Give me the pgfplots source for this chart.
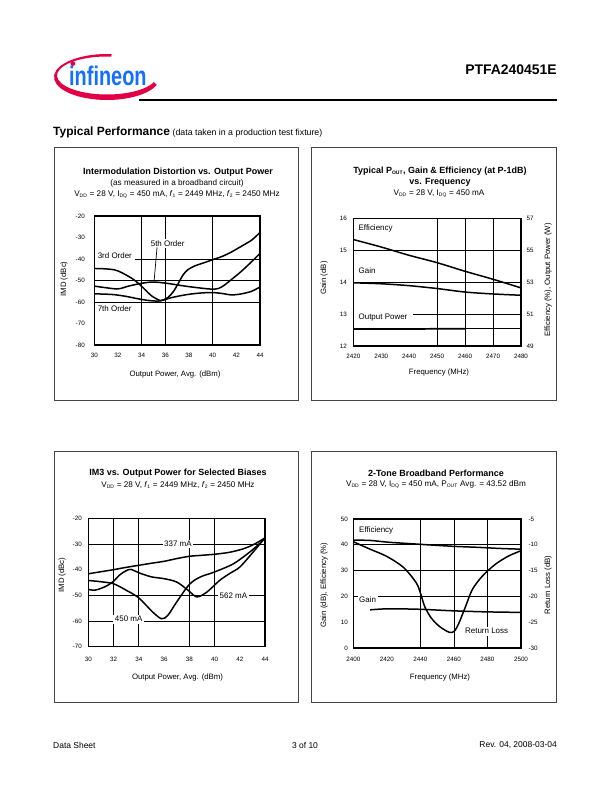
\documentclass[border=0pt]{standalone}
\usepackage{fontspec}
\setmainfont{Liberation Sans}
\usepackage{graphicx}
\usepackage{pgfplots}
\pgfplotsset{compat=1.18}
\definecolor{infblue}{RGB}{20,110,255}
\definecolor{infred}{RGB}{225,0,70}
\definecolor{boxgray}{RGB}{70,70,70}
\newcommand{\tfont}{\fontsize{9}{10.8}\selectfont\bfseries}
\newcommand{\sfont}{\fontsize{8.2}{9.6}\selectfont}
\newcommand{\lfont}{\fontsize{7.8}{9.2}\selectfont}
\newcommand{\ifont}{\fontsize{8}{9.4}\selectfont}
\newcommand{\kfont}{\fontsize{6.3}{7.2}\selectfont}
\newcommand{\sub}[1]{\textsubscript{\fontsize{5}{5.5}\selectfont #1}}
\pgfplotsset{
  base/.style={
    scale only axis,
    axis line style={line width=1.1bp},
    major tick length=0pt,
    tick label style={font=\kfont},
    /pgf/number format/assume math mode=true,
    /pgf/number format/set thousands separator={},
    cycle list={{black}},
    every axis plot/.append style={black, line width=1.5bp, no markers, smooth, tension=0.5},
  },
}
\tikzset{
  gr/.style={line width=0.7bp, black},
  lab/.style={font=\ifont, fill=white, inner xsep=1.5bp, inner ysep=1.5bp},
}
\begin{document}
\begin{tikzpicture}
\path[use as bounding box] (0,0) rectangle (612bp,-792bp);
% ---------- header ----------
\fill[infred] (107bp,-77bp) +(85:53bp and 23bp) arc[start angle=85,end angle=340,x radius=53bp,y radius=23bp]
  -- ([shift={(340:50bp and 19bp)}]107bp,-75.5bp) arc[start angle=340,end angle=85,x radius=50bp,y radius=19bp] -- cycle;
\node[anchor=base west, inner sep=0pt, text=infblue] at (69bp,-85bp) {\scalebox{0.74}[1]{\fontsize{27}{27}\selectfont\bfseries infineon}};
\fill[infred] (72.8bp,-63.5bp) circle (2.4bp);
\node[anchor=east, inner sep=0pt, font=\fontsize{14}{16}\selectfont\bfseries] at (557bp,-70bp) {PTFA240451E};
\draw[line width=1.2bp] (139bp,-100bp) -- (557bp,-100bp);
\node[anchor=base west, inner sep=0pt] at (53bp,-135bp) {{\fontsize{12}{14}\selectfont\bfseries Typical Performance} {\fontsize{8.8}{10}\selectfont (data taken in a production test fixture)}};
% ---------- footer ----------
\node[anchor=west, inner sep=0pt, font=\fontsize{8.5}{10}\selectfont] at (53bp,-745bp) {Data Sheet};
\node[anchor=center, inner sep=0pt, font=\fontsize{8.5}{10}\selectfont] at (305bp,-745bp) {3 of 10};
\node[anchor=east, inner sep=0pt, font=\fontsize{8.5}{10}\selectfont] at (557bp,-745bp) {Rev. 04, 2008-03-04};
% ---------- boxes ----------
\draw[boxgray, line width=1bp] (54.5bp,-147bp) rectangle (298bp,-400bp);
\draw[boxgray, line width=1bp] (311bp,-147bp) rectangle (556bp,-400bp);
\draw[boxgray, line width=1bp] (54.5bp,-451bp) rectangle (298bp,-702bp);
\draw[boxgray, line width=1bp] (311bp,-451bp) rectangle (556bp,-702bp);

% ================= Chart 1 =================
\node[font=\tfont, inner sep=0pt] at (178bp,-172bp) {Intermodulation Distortion vs. Output Power};
\node[font=\sfont, inner sep=0pt] at (177bp,-183.5bp) {(as measured in a broadband circuit)};
\node[font=\sfont, inner sep=0pt] at (177bp,-195bp) {V\sub{DD} = 28 V, I\sub{DQ} = 450 mA, \textit{f}\sub{1} = 2449 MHz, \textit{f}\sub{2} = 2450 MHz};
\node[font=\lfont, inner sep=0pt] at (175bp,-374bp) {Output Power, Avg. (dBm)};
\node[font=\lfont, inner sep=0pt, rotate=90] at (64bp,-279bp) {IMD (dBc)};
\begin{axis}[base, at={(94.3bp,-345bp)}, anchor=south west, width=165.7bp, height=129bp,
  xmin=30, xmax=44, ymin=-80, ymax=-20,
  xtick={30,32,...,44}, ytick={-80,-70,...,-20},
  xticklabel style={yshift=-5bp}, yticklabel style={xshift=-6bp}]
\draw[gr] (axis cs:34,-80) -- (axis cs:34,-20);
\draw[gr] (axis cs:36,-80) -- (axis cs:36,-20);
\draw[gr] (axis cs:40,-80) -- (axis cs:40,-20);
\draw[gr] (axis cs:33.4,-40) -- (axis cs:44,-40);
\draw[gr] (axis cs:30,-50) -- (axis cs:44,-50);
\draw[gr] (axis cs:30,-60) -- (axis cs:44,-60);
% 3rd order
\addplot coordinates {(30,-44.4) (31,-44.6) (31.75,-45.1) (32.3,-46.3) (33.15,-48.9) (33.7,-51.2) (34.3,-54.3) (34.85,-57.2) (35.55,-59.3) (35.8,-59.1) (36.25,-57.8) (36.7,-55) (37.1,-51.3) (37.5,-47.4) (37.9,-45) (38.5,-43.2) (39.35,-41.6) (40,-40.3) (40.8,-38.8) (41.6,-36.7) (42.45,-34) (43.3,-31.2) (44,-27.6)};
% 5th order
\addplot coordinates {(30,-52.6) (30.9,-53.3) (32,-53.9) (32.9,-52.6) (33.9,-51.4) (34.85,-50.7) (35.7,-51) (36.5,-51.6) (37.66,-52.6) (38.8,-53.4) (39.9,-54) (40.5,-53.7) (41,-52.1) (41.6,-49.5) (42.45,-45.6) (43.3,-41.2) (44,-37.4)};
% 7th order
\addplot coordinates {(30,-56.2) (31.5,-56.5) (32.6,-57.3) (33.7,-58.5) (34.6,-59.3) (35.55,-59.5) (36.5,-58) (37.66,-56.7) (38.8,-55.9) (39.9,-55.6) (40.76,-56) (41.6,-56.7) (42.45,-56.2) (43.3,-55) (44,-53)};
\node[lab, anchor=west] at (axis cs:30.15,-38.3) {3rd Order};
\node[lab] at (axis cs:36.2,-32.7) {5th Order};
\draw[line width=0.7bp] (axis cs:35.3,-34.6) -- (axis cs:35.05,-50.4);
\node[lab, anchor=west, fill=none] at (axis cs:30.15,-63) {7th Order};
\end{axis}

% ================= Chart 2 =================
\node[font=\tfont, inner sep=0pt] at (440bp,-171bp) {Typical P\sub{OUT}, Gain \& Efficiency (at P-1dB)};
\node[font=\tfont, inner sep=0pt] at (440bp,-182bp) {vs. Frequency};
\node[font=\sfont, inner sep=0pt] at (439bp,-194bp) {V\sub{DD} = 28 V, I\sub{DQ} = 450 mA};
\node[font=\lfont, inner sep=0pt] at (439bp,-372bp) {Frequency (MHz)};
\node[font=\lfont, inner sep=0pt, rotate=90] at (324bp,-278bp) {Gain (dB)};
\node[font=\lfont, inner sep=0pt, rotate=90] at (548bp,-280bp) {Efficiency (\%), Output Power (W)};
\begin{axis}[base, at={(353.3bp,-346bp)}, anchor=south west, width=167.7bp, height=127.7bp,
  xmin=2420, xmax=2480, ymin=12, ymax=16,
  xtick={2420,2430,...,2480}, ytick={12,13,...,16},
  xticklabel style={yshift=-5bp}, yticklabel style={xshift=-3bp}]
\draw[gr] (axis cs:2450,12) -- (axis cs:2450,16);
\draw[gr] (axis cs:2460,12) -- (axis cs:2460,16);
\draw[gr] (axis cs:2470,12) -- (axis cs:2470,16);
\draw[gr] (axis cs:2420,15) -- (axis cs:2480,15);
\draw[gr] (axis cs:2420,14) -- (axis cs:2480,14);
\draw[gr] (axis cs:2441.5,13) -- (axis cs:2480,13);
% Gain
\addplot coordinates {(2420,13.98) (2430,13.95) (2440,13.89) (2450,13.8) (2460,13.69) (2470,13.63) (2480,13.59)};
\node[lab, anchor=west, fill=none] at (axis cs:2421.3,15.69) {Efficiency};
\node[lab, anchor=west, fill=none] at (axis cs:2421.3,14.37) {Gain};
\node[lab, anchor=west] at (axis cs:2421.3,12.9) {Output Power};
\end{axis}
\begin{axis}[base, at={(353.3bp,-346bp)}, anchor=south west, width=167.7bp, height=127.7bp,
  xmin=2420, xmax=2480, ymin=49, ymax=57,
  axis x line=none, axis y line*=right, ytick={49,51,...,57},
  yticklabel style={xshift=2bp}]
% Efficiency
\addplot coordinates {(2420,55.67) (2430,55.2) (2440,54.68) (2450,54.22) (2460,53.68) (2470,53.18) (2480,52.64)};
% Output power
\addplot[line width=1.7bp, sharp plot] coordinates {(2420,50.06) (2440,50.06) (2450,50.08) (2460,50.08)};
\addplot[line width=0.7bp, sharp plot] coordinates {(2460,50.08) (2480,50.08)};
\end{axis}

% ================= Chart 3 =================
\node[font=\tfont, inner sep=0pt] at (178bp,-473bp) {IM3 vs. Output Power for Selected Biases};
\node[font=\sfont, inner sep=0pt] at (178bp,-485bp) {V\sub{DD} = 28 V, \textit{f}\sub{1} = 2449 MHz, \textit{f}\sub{2} = 2450 MHz};
\node[font=\lfont, inner sep=0pt] at (177.5bp,-677bp) {Output Power, Avg. (dBm)};
\node[font=\lfont, inner sep=0pt, rotate=90] at (62bp,-575bp) {IMD (dBc)};
\begin{axis}[base, at={(88.3bp,-646.7bp)}, anchor=south west, width=176.7bp, height=128.4bp,
  xmin=30, xmax=44, ymin=-70, ymax=-20,
  xtick={30,32,...,44}, ytick={-70,-60,...,-20},
  xticklabel style={yshift=-7bp}, yticklabel style={xshift=-3bp}]
\draw[gr] (axis cs:32,-70) -- (axis cs:32,-20);
\draw[gr] (axis cs:34,-70) -- (axis cs:34,-20);
\draw[gr] (axis cs:38,-70) -- (axis cs:38,-20);
\draw[gr] (axis cs:40,-70) -- (axis cs:40,-20);
\draw[gr] (axis cs:30,-30) -- (axis cs:44,-30);
\draw[gr] (axis cs:30,-50) -- (axis cs:44,-50);
\draw[gr] (axis cs:30,-60) -- (axis cs:44,-60);
% 337 mA
\addplot coordinates {(30,-41.6) (31,-40.8) (32,-40) (33,-39.1) (34,-38.3) (35,-37.5) (36,-36.75) (37,-35.7) (38,-34.8) (39,-34.4) (40,-34) (41,-33.4) (41.5,-32.9) (42.2,-32) (42.8,-30.9) (43.4,-29.4) (44,-27.6)};
% 450 mA
\addplot coordinates {(30,-44.2) (31,-44.7) (32,-45.5) (33,-48) (34,-51) (35.1,-56.5) (35.8,-59.1) (36.3,-57.8) (37,-52.6) (38,-45.8) (38.85,-42.9) (40,-40.9) (41.5,-37.7) (42.8,-33.1) (43.4,-30.6) (44,-27.7)};
% 562 mA
\addplot coordinates {(30,-47.7) (30.5,-48) (31,-47.3) (31.5,-46.2) (32,-44.5) (32.5,-42) (33,-40.4) (33.4,-39.9) (34,-41.2) (35,-42.8) (36,-43.5) (37,-44.8) (37.9,-48) (38.6,-50.6) (39.4,-48.7) (40.4,-44.2) (41.2,-41.5) (42,-39) (43,-33.5) (44,-27.6)};
\node[lab] at (axis cs:37.1,-30) {337 mA};
\node[lab] at (axis cs:41.5,-50) {562 mA};
\node[lab] at (axis cs:33.2,-59.3) {450 mA};
\end{axis}

% ================= Chart 4 =================
\node[font=\tfont, inner sep=0pt] at (436bp,-473bp) {2-Tone Broadband Performance};
\node[font=\sfont, inner sep=0pt] at (436bp,-485bp) {V\sub{DD} = 28 V, I\sub{DQ} = 450 mA, P\sub{OUT} Avg. = 43.52 dBm};
\node[font=\lfont, inner sep=0pt] at (440bp,-677bp) {Frequency (MHz)};
\node[font=\lfont, inner sep=0pt, rotate=90] at (324bp,-585bp) {Gain (dB), Efficiency (\%)};
\node[font=\lfont, inner sep=0pt, rotate=90] at (548bp,-585bp) {Return Loss (dB)};
\begin{axis}[base, at={(353.3bp,-648bp)}, anchor=south west, width=167.7bp, height=129bp,
  xmin=2400, xmax=2500, ymin=0, ymax=50,
  xtick={2400,2420,...,2500}, ytick={0,10,...,50},
  xticklabel style={yshift=-6bp}, yticklabel style={xshift=-2bp}]
\draw[gr] (axis cs:2440,0) -- (axis cs:2440,50);
\draw[gr] (axis cs:2460,0) -- (axis cs:2460,50);
\draw[gr] (axis cs:2480,0) -- (axis cs:2480,50);
\draw[gr] (axis cs:2400,40) -- (axis cs:2500,40);
\draw[gr] (axis cs:2400,30) -- (axis cs:2500,30);
\draw[gr] (axis cs:2400,20) -- (axis cs:2500,20);
% Efficiency
\addplot coordinates {(2400,41.8) (2410,41.7) (2421,41) (2435,40.4) (2447,39.9) (2460,39.4) (2475,39) (2487,38.6) (2500,38.3)};
% Gain
\addplot coordinates {(2410,14.8) (2421,15.2) (2440,15) (2460,14.4) (2480,14) (2500,13.8)};
\node[lab, anchor=west, fill=none] at (axis cs:2402.5,45.5) {Efficiency};
\node[lab, anchor=west] at (axis cs:2402.5,18.8) {Gain};
\end{axis}
\begin{axis}[base, at={(353.3bp,-648bp)}, anchor=south west, width=167.7bp, height=129bp,
  xmin=2400, xmax=2500, ymin=-30, ymax=-5,
  axis x line=none, axis y line*=right, ytick={-30,-25,...,-5},
  yticklabel style={xshift=4bp}]
% Return loss
\addplot coordinates {(2400,-9.4) (2410,-10.85) (2420,-12.25) (2430,-14.4) (2437.5,-17.35) (2440,-19.3) (2442.5,-21.9) (2446.4,-24.15) (2451.3,-25.8) (2457.2,-26.95) (2460.2,-26.75) (2463,-25.15) (2467,-21.9) (2471,-18.65) (2477,-16.05) (2484.8,-13.75) (2492.7,-12.15) (2500,-11.15)};
\node[lab] at (axis cs:2479.5,-26.75) {Return Loss};
\end{axis}
\end{tikzpicture}
\end{document}
